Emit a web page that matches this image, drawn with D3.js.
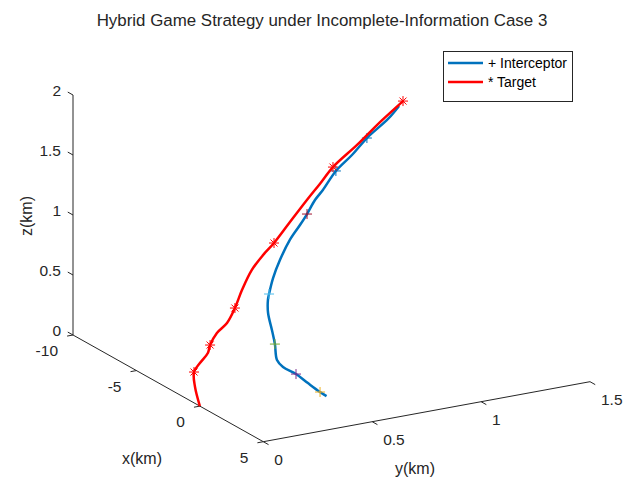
<!DOCTYPE html>
<html>
<head>
<meta charset="utf-8">
<script src="https://cdn.jsdelivr.net/npm/d3@7"></script>
<style>
  body { margin: 0; background: #fff; }
  svg { font-family: "Liberation Sans", Arial, sans-serif; }
</style>
</head>
<body>
<div id="chart"></div>
<script>
// trajectory samples (km)
const targetX = [0, -0.4, -0.6, -0.8, -1.0, -1.1, -1.3, -1.5, -1.7, -1.9, -2.1, -2.3, -2.5, -2.8, -3.1, -3.3, -3.5, -3.8, -4.1, -4.4];
const targetY = [0, 0.001, 0.008, 0.047, 0.095, 0.111, 0.154, 0.212, 0.26, 0.304, 0.361, 0.424, 0.486, 0.575, 0.672, 0.743, 0.815, 0.943, 1.066, 1.189];
const targetZ = [0, 0.136, 0.246, 0.296, 0.352, 0.407, 0.481, 0.533, 0.63, 0.753, 0.89, 0.981, 1.049, 1.172, 1.31, 1.408, 1.513, 1.637, 1.769, 1.885];

const interX = [1.4, 1.3, 1.1, 0.9, 0.7, 0.5, 0.3, 0.1, -0.1, -0.3, -0.4, -0.6, -0.9, -1.2, -1.5, -1.7, -2.0, -2.2, -2.6, -3.0, -3.4, -3.9, -4.3];
const interY = [0.5, 0.476, 0.432, 0.389, 0.341, 0.325, 0.327, 0.325, 0.319, 0.33, 0.341, 0.371, 0.42, 0.483, 0.547, 0.591, 0.645, 0.693, 0.776, 0.873, 0.965, 1.091, 1.165];
const interZ = [0, 0.036, 0.113, 0.191, 0.254, 0.306, 0.426, 0.532, 0.664, 0.757, 0.797, 0.908, 1.024, 1.153, 1.238, 1.303, 1.384, 1.44, 1.547, 1.624, 1.711, 1.798, 1.858];

// sample indices that carry markers
const targetMarks = [2, 5, 8, 12, 16, 19];
const interMarks = [1, 3, 6, 10, 15, 18, 20];
const interMarkColors = ["#EDB120", "#7E2F8E", "#77AC30", "#4DBEEE", "#A2142F", "#0072BD", "#0072BD"];

const xTicks = [-10, -5, 0, 5];
const yTicks = [0, 0.5, 1, 1.5];
const zTicks = [0, 0.5, 1, 1.5, 2];

const W = 624, H = 482;
const axisColor = "#262626";

const svg = d3.select("#chart").append("svg")
  .attr("width", W)
  .attr("height", H);

// orthographic view: each axis maps to a 2D screen offset
const xS = d3.scaleLinear().domain([-10, 5]).range([[73, 335], [263.3, 441.7]]);
const yS = d3.scaleLinear().domain([0, 1.5]).range([[0, 0], [326.7, -60]]);
const zS = d3.scaleLinear().domain([0, 2]).range([[0, 0], [0, -240]]);

const proj = (x, y, z) => {
  const a = xS(x), b = yS(y), c = zS(z);
  return [a[0] + b[0] + c[0], a[1] + b[1] + c[1]];
};

const unit = (p, q) => {
  const dx = q[0] - p[0], dy = q[1] - p[1], l = Math.hypot(dx, dy);
  return [dx / l, dy / l];
};
const exDir = unit(proj(-10, 0, 0), proj(5, 0, 0));
const eyDir = unit(proj(5, 0, 0), proj(5, 1.5, 0));
const tickLen = 6;

// axis lines
const axes = svg.append("g").attr("stroke", axisColor).attr("stroke-width", 1).attr("fill", "none");
const seg = (p, q) => axes.append("line").attr("x1", p[0]).attr("y1", p[1]).attr("x2", q[0]).attr("y2", q[1]);
seg(proj(-10, 0, 0), proj(-10, 0, 2));
seg(proj(-10, 0, 0), proj(5, 0, 0));
seg(proj(5, 0, 0), proj(5, 1.5, 0));

const labels = svg.append("g").attr("fill", axisColor).style("font-size", "15.5px");

xTicks.forEach(v => {
  const p = proj(v, 0, 0);
  seg(p, [p[0] - tickLen * eyDir[0], p[1] - tickLen * eyDir[1]]);
  labels.append("text").attr("x", p[0] - 15).attr("y", p[1] + 21)
    .attr("text-anchor", "end").text(v);
});

yTicks.forEach(v => {
  const p = proj(5, v, 0);
  seg(p, [p[0] + tickLen * exDir[0], p[1] + tickLen * exDir[1]]);
  labels.append("text").attr("x", p[0] + 11).attr("y", p[1] + 23)
    .attr("text-anchor", "start").text(v);
});

zTicks.forEach(v => {
  const p = proj(-10, 0, v);
  seg(p, [p[0] - tickLen * exDir[0], p[1] - tickLen * exDir[1]]);
  labels.append("text").attr("x", p[0] - 12).attr("y", p[1] + 1)
    .attr("text-anchor", "end").text(v);
});

// axis titles
svg.append("text").attr("x", 142).attr("y", 464).attr("text-anchor", "middle")
  .attr("fill", axisColor).style("font-size", "16px").text("x(km)");
svg.append("text").attr("x", 415).attr("y", 474).attr("text-anchor", "middle")
  .attr("fill", axisColor).style("font-size", "16px").text("y(km)");
svg.append("text").attr("transform", "translate(32,216) rotate(-90)").attr("text-anchor", "middle")
  .attr("fill", axisColor).style("font-size", "16px").text("z(km)");

svg.append("text").attr("x", 322).attr("y", 26).attr("text-anchor", "middle")
  .attr("fill", axisColor).style("font-size", "16.9px")
  .text("Hybrid Game Strategy under Incomplete-Information Case 3");

const line = d3.line().x(d => d[0]).y(d => d[1]).curve(d3.curveCatmullRom);

const interPts = interX.map((x, i) => proj(x, interY[i], interZ[i]));
const targetPts = targetX.map((x, i) => proj(x, targetY[i], targetZ[i]));

svg.append("path").datum(interPts)
  .attr("fill", "none").attr("stroke", "#0072BD").attr("stroke-width", 2.5)
  .attr("stroke-linejoin", "round").attr("d", line);

const plus = (g, p, color) => {
  const s = 5;
  g.append("path")
    .attr("d", `M${p[0] - s},${p[1]}H${p[0] + s}M${p[0]},${p[1] - s}V${p[1] + s}`)
    .attr("stroke", color).attr("stroke-width", 1).attr("fill", "none");
};
const star = (g, p, color) => {
  const s = 5, d = s * 0.7;
  g.append("path")
    .attr("d", `M${p[0] - s},${p[1]}H${p[0] + s}M${p[0]},${p[1] - s}V${p[1] + s}` +
      `M${p[0] - d},${p[1] - d}L${p[0] + d},${p[1] + d}M${p[0] - d},${p[1] + d}L${p[0] + d},${p[1] - d}`)
    .attr("stroke", color).attr("stroke-width", 1).attr("fill", "none");
};

const mk = svg.append("g");
interMarks.forEach((idx, i) => plus(mk, interPts[idx], interMarkColors[i]));

svg.append("path").datum(targetPts)
  .attr("fill", "none").attr("stroke", "#FF0000").attr("stroke-width", 2.5)
  .attr("stroke-linejoin", "round").attr("d", line);

const mk2 = svg.append("g");
targetMarks.forEach(idx => star(mk2, targetPts[idx], "#FF0000"));

// legend
const lg = svg.append("g");
lg.append("rect").attr("x", 443.5).attr("y", 51.5).attr("width", 129).attr("height", 50)
  .attr("fill", "#fff").attr("stroke", axisColor).attr("stroke-width", 1);
const legendItems = [["+ Interceptor", "#0072BD"], ["* Target", "#FF0000"]];
legendItems.forEach(([name, color], i) => {
  const y = 63 + i * 19;
  lg.append("line").attr("x1", 448).attr("x2", 483).attr("y1", y).attr("y2", y)
    .attr("stroke", color).attr("stroke-width", 2.5);
  lg.append("text").attr("x", 488).attr("y", y + 5).attr("fill", "#000")
    .style("font-size", "14px").text(name);
});
</script>
</body>
</html>
